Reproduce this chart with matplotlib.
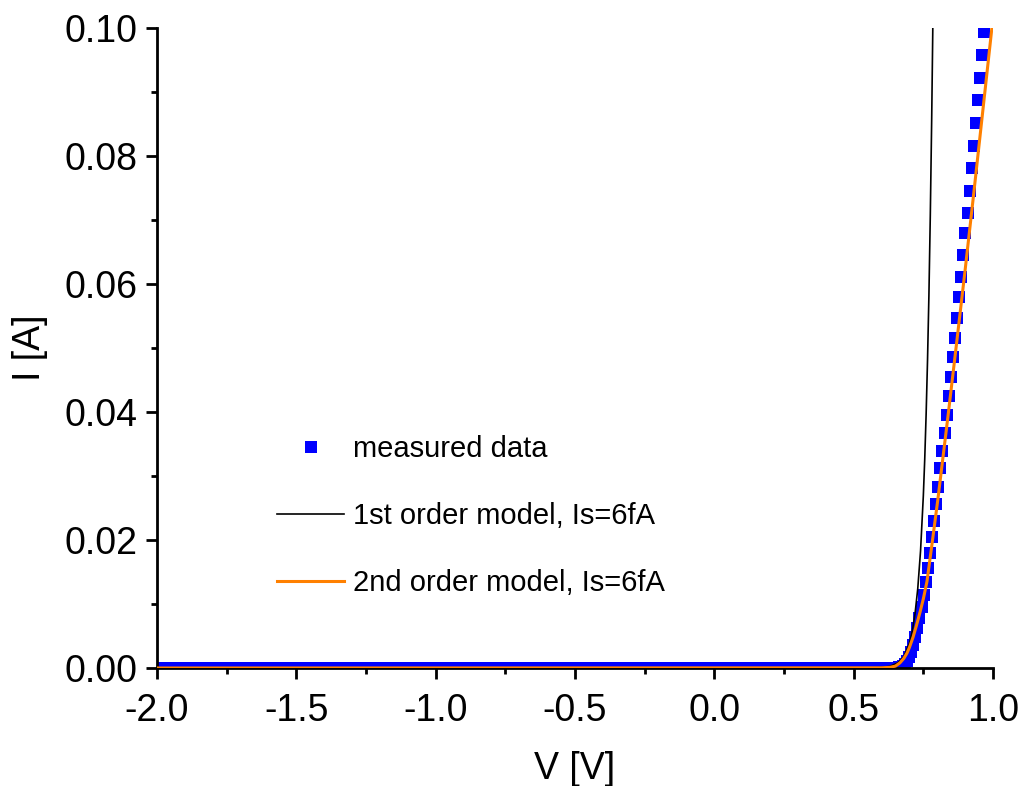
import numpy as np
import matplotlib
matplotlib.use("Agg")
import matplotlib.pyplot as plt
from matplotlib.ticker import MultipleLocator, FormatStrFormatter

plt.rcParams['font.family'] = ['Liberation Sans', 'DejaVu Sans']

# ---- measured data (blue squares) ----
# reverse / low-forward region: current ~0 on the sweep grid
V_meas_flat = np.arange(-2.0, 0.65, 0.0075)
I_meas_flat = np.zeros_like(V_meas_flat)
# forward region (top -> bottom)
V_meas_rise = [0.9685, 0.9610, 0.9535, 0.9460, 0.9385, 0.9310, 0.9235, 0.9160,
               0.9085, 0.9010, 0.8935, 0.8860, 0.8785, 0.8710, 0.8635, 0.8560,
               0.8485, 0.8410, 0.8335, 0.8260, 0.8185, 0.8110, 0.8035, 0.7960,
               0.7885, 0.7810, 0.7735, 0.7660, 0.7585, 0.7510, 0.7435, 0.7360,
               0.7285, 0.7210, 0.7135, 0.7060, 0.6985, 0.6910, 0.6835, 0.6760,
               0.6685, 0.6610, 0.6535]
I_meas_rise = [0.09938, 0.09578, 0.09219, 0.08875, 0.08516, 0.08156, 0.07813, 0.07453,
               0.07109, 0.06797, 0.06453, 0.06109, 0.05797, 0.05469, 0.05156, 0.04859,
               0.04547, 0.04250, 0.03953, 0.03672, 0.03391, 0.03125, 0.02833, 0.02563,
               0.02302, 0.02042, 0.01802, 0.01558, 0.01339, 0.01141, 0.00953, 0.00781,
               0.00625, 0.00484, 0.00359, 0.00250, 0.00172, 0.00109, 0.00063, 0.00031,
               0.00016, 0.00010, 0.00005]

# ---- 1st order model, Is=6fA (black) ----
V_m1 = [-2.0, 0.50, 0.55, 0.60, 0.63, 0.66, 0.68, 0.70, 0.71, 0.72, 0.73, 0.74,
        0.75, 0.755, 0.76, 0.765, 0.77, 0.775, 0.78, 0.785]
I_m1 = [0.0, 0.0000017, 0.000012, 0.000082, 0.00026, 0.00083, 0.00179, 0.00388,
        0.0057, 0.0084, 0.0124, 0.0183, 0.0269, 0.0326, 0.0396, 0.0480, 0.0582,
        0.0707, 0.0858, 0.1036]

# ---- 2nd order model, Is=6fA (orange) ----
V_m2 = [-2.0, 0.60, 0.63, 0.65, 0.666, 0.68, 0.691, 0.70, 0.713, 0.725, 0.738,
        0.75, 0.763, 0.78, 0.802, 0.84, 0.87, 0.90, 0.93, 0.96, 0.996]
I_m2 = [0.0, 0.00003, 0.0001, 0.0003, 0.0008, 0.0015, 0.0023, 0.0032, 0.0048,
        0.0066, 0.0087, 0.0108, 0.0135, 0.0190, 0.0263, 0.0399, 0.0510, 0.0622,
        0.0738, 0.0857, 0.1000]

labels = ["measured data", "1st order model, Is=6fA", "2nd order model, Is=6fA"]
x_label = "V [V]"
y_label = "I [A]"

fig = plt.figure(figsize=(10.24, 7.86), dpi=100)
ax = fig.add_axes([157 / 1024, 118 / 786, 836 / 1024, 640 / 786])

V_meas = np.concatenate([V_meas_flat, np.array(V_meas_rise)[::-1]])
I_meas = np.concatenate([I_meas_flat, np.array(I_meas_rise)[::-1]])

ax.plot(V_meas, I_meas, linestyle='none', marker='s', markersize=8.5,
        markeredgewidth=0, color='#0000FF', label=labels[0], zorder=2)
ax.plot(V_m1, I_m1, color='black', linewidth=1.2, label=labels[1], zorder=3)
ax.plot(V_m2, I_m2, color='#FF8000', linewidth=2.2, label=labels[2], zorder=4)

ax.set_xlim(-2.0, 1.0)
ax.set_ylim(0.0, 0.10)

ax.xaxis.set_major_locator(MultipleLocator(0.5))
ax.xaxis.set_minor_locator(MultipleLocator(0.25))
ax.yaxis.set_major_locator(MultipleLocator(0.02))
ax.yaxis.set_minor_locator(MultipleLocator(0.01))
ax.xaxis.set_major_formatter(FormatStrFormatter('%.1f'))
ax.yaxis.set_major_formatter(FormatStrFormatter('%.2f'))

for s in ['top', 'right']:
    ax.spines[s].set_visible(False)
for s in ['left', 'bottom']:
    ax.spines[s].set_linewidth(2.0)

ax.tick_params(which='major', direction='out', length=8, width=2.0,
               labelsize=27)
ax.tick_params(axis='x', which='major', pad=10)
ax.tick_params(axis='y', which='major', pad=6)
ax.tick_params(which='minor', direction='out', length=4, width=2.0)

ax.set_xlabel(x_label, fontsize=27, labelpad=16)
ax.set_ylabel(y_label, fontsize=27, labelpad=12)

leg = ax.legend(loc='upper left', bbox_to_anchor=(277 / 1024, 1 - 435 / 786),
                bbox_transform=fig.transFigure, frameon=False, fontsize=21,
                numpoints=1, handlelength=2.3, handletextpad=0.3,
                labelspacing=1.34, borderpad=0, borderaxespad=0,
                markerscale=1.1)

fig.savefig("out.png", dpi=100)
